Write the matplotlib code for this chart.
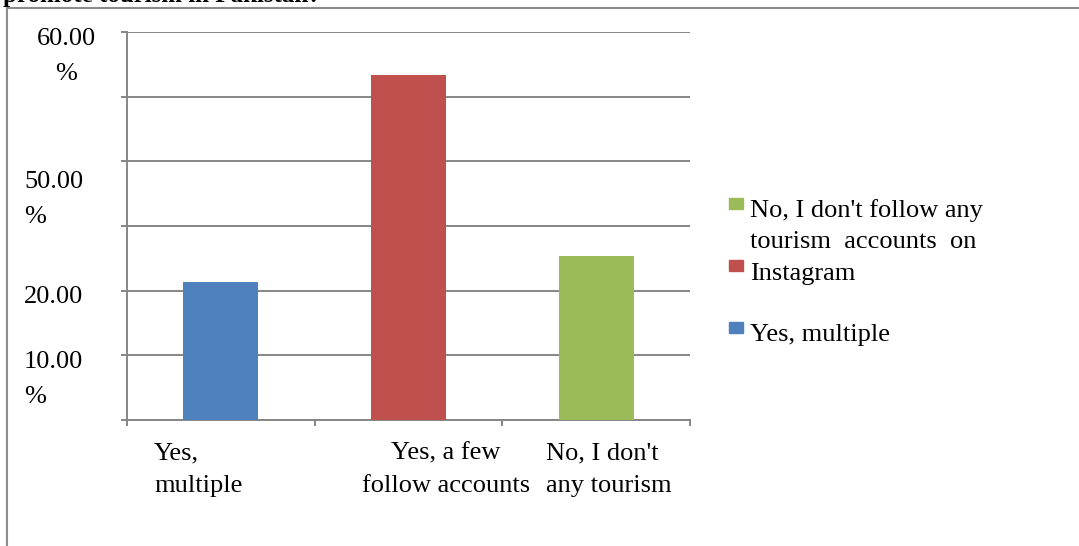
import matplotlib.pyplot as plt
from matplotlib.lines import Line2D
from matplotlib.patches import Rectangle

# survey answers and their shares (%)
categories = ["Yes, multiple", "Yes, a few follow accounts",
              "No, I don't follow any tourism accounts on Instagram"]
values = [21.3, 53.4, 25.3]
colors = ["#4F81BD", "#C0504D", "#9BBB59"]
tick_labels = ["Yes,\nmultiple", "Yes, a few\nfollow accounts", "No, I don't\nany tourism"]
y_labels = ["60.00\n%", "50.00\n%", "20.00", "10.00\n%"]
legend_labels = ["No, I don't follow any\ntourism  accounts  on\nInstagram", "", "Yes, multiple"]
legend_colors = ["#9BBB59", "#C0504D", "#4F81BD"]
title = "promote tourism in Pakistan?"

W, H = 1079, 546
fig = plt.figure(figsize=(W / 100, H / 100), dpi=100)


def px(x, y):
    # pixel position (from top-left) -> figure fraction
    return x / W, 1 - y / H


serif = "Liberation Serif"
fs = 19
gray = "#868686"

ax = fig.add_axes([127 / W, 1 - 420 / H, (690 - 127) / W, (420 - 32) / H])
ax.bar(range(len(values)), values, width=0.4, color=colors, zorder=3)
ax.set_xlim(-0.5, 2.5)
ax.set_ylim(0, 60)
ax.set_yticks(range(0, 61, 10))
ax.set_yticklabels([])
ax.set_xticks([-0.5, 0.5, 1.5, 2.5])
ax.set_xticklabels([])
ax.grid(axis="y", color=gray, lw=1.4, zorder=1)
for s in ["top", "right"]:
    ax.spines[s].set_visible(False)
for s in ["left", "bottom"]:
    ax.spines[s].set_color(gray)
    ax.spines[s].set_linewidth(1.4)
ax.tick_params(direction="out", length=4.5, width=1.4, color=gray)

# y axis labels, placed by hand
y_pos = [(66, 45, "center"), (24, 188, "left"), (24, 303, "left"), (24, 368, "left")]
for label, (lx, ly, ha) in zip(y_labels, y_pos):
    for i, line in enumerate(label.split("\n")):
        fig.text(*px(lx, ly + i * 35), line, ha=ha, va="baseline",
                 family=serif, fontsize=fs)

# category labels
x_pos = [(154, "left"), (446, "center"), (546, "left")]
for label, (lx, ha) in zip(tick_labels, x_pos):
    for i, line in enumerate(label.split("\n")):
        fig.text(*px(lx, 459 + i * 33), line, ha=ha, va="baseline",
                 family=serif, fontsize=fs)

# legend
leg_tops = [198, 260, 322]
for label, c, top in zip(legend_labels, legend_colors, leg_tops):
    fig.patches.append(Rectangle(px(729, top + 11), 14 / W, 11 / H,
                                 transform=fig.transFigure, color=c))
    for i, line in enumerate(label.split("\n")):
        fig.text(*px(750, top + 19 + i * 31.5), line, ha="left", va="baseline",
                 family=serif, fontsize=fs)

# title (cut by the top edge) and frame
fig.text(*px(3, 2), title, ha="left", va="baseline", family=serif,
         fontsize=18, fontweight="bold")
fig.add_artist(Line2D([7 / W, 7 / W], [0, 1 - 8 / H], color="#8c8c8c", lw=1.5))
fig.add_artist(Line2D([7 / W, 1], [1 - 8 / H, 1 - 8 / H], color="#8c8c8c", lw=1.5))

fig.savefig("out.png", dpi=100)
